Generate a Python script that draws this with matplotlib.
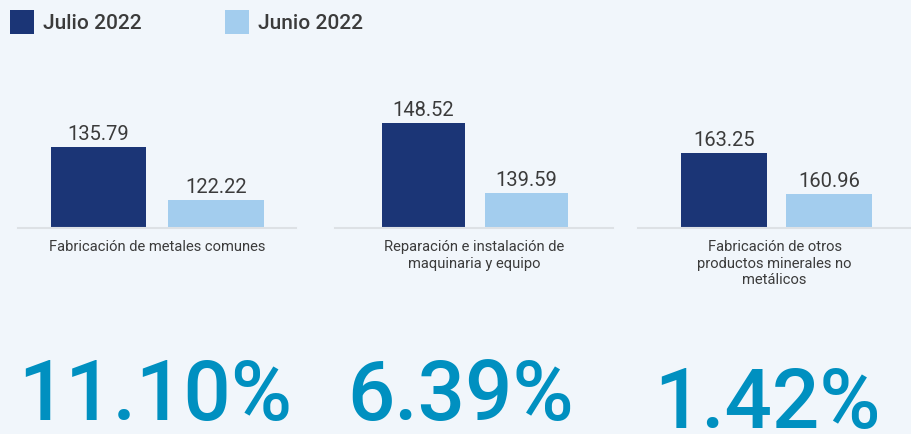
import numpy as np
import matplotlib.pyplot as plt
from matplotlib.patches import Rectangle

# datos
categorias = ["Fabricación de metales comunes",
              "Reparación e instalación de\nmaquinaria y equipo",
              "Fabricación de otros\nproductos minerales no\nmetálicos"]
julio_2022 = [135.79, 148.52, 163.25]
junio_2022 = [122.22, 139.59, 160.96]
variacion = ["11.10%", "6.39%", "1.42%"]
series = ["Julio 2022", "Junio 2022"]

c_julio = "#1b3576"
c_junio = "#a3cdee"
c_texto = "#3b3b3b"
c_pct = "#0090c0"
fondo = "#f1f6fb"

plt.rcParams['font.family'] = ['Roboto', 'DejaVu Sans']

W, H = 911, 435
fig = plt.figure(figsize=(W / 100, H / 100), dpi=100, facecolor=fondo)

# capa de fondo para leyenda y porcentajes (en pixeles)
ov = fig.add_axes([0, 0, 1, 1])
ov.set_xlim(0, W)
ov.set_ylim(H, 0)
ov.axis('off')

# leyenda
for (x0, lab, col) in [(10, series[0], c_julio), (225, series[1], c_junio)]:
    ov.add_patch(Rectangle((x0, 11), 24, 24, color=col, lw=0))
    ov.text(x0 + 33, 23.5, lab, fontsize=15, fontweight='medium',
            color=c_texto, va='center', ha='left')

# paneles: (izq, der, centro barra 1, separacion, ymin, ymax)
paneles = [(18, 296, 98.5, 117.5, 115.05, 150.7),
           (335, 613, 423.5, 103, 135.1, 152.9),
           (638, 911, 724, 105, 159.06, 166.8)]
base_y, top_y = 229, 90

for i, (izq, der, c0, s, ymin, ymax) in enumerate(paneles):
    ax = fig.add_axes([izq / W, (H - base_y) / H, (der - izq) / W,
                       (base_y - top_y) / H])
    ax.set_facecolor('none')
    vals = [julio_2022[i], junio_2022[i]]
    bars = ax.bar([0, 1], vals, width=0.81, color=[c_julio, c_junio],
                  bottom=0)
    ax.set_xlim((izq - c0) / s, (der - c0) / s)
    ax.set_ylim(ymin, ymax)
    for b, v in zip(bars, vals):
        ax.annotate(f"{v:.2f}", xy=(b.get_x() + b.get_width() / 2, v),
                    xytext=(0, 8), textcoords='offset pixels',
                    ha='center', va='baseline', fontsize=14.5,
                    color=c_texto)
    for sp in ['top', 'left', 'right']:
        ax.spines[sp].set_visible(False)
    ax.spines['bottom'].set_color('#dde1e5')
    ax.spines['bottom'].set_linewidth(1.5)
    ax.set_xticks([])
    ax.set_yticks([])
    ax.annotate(categorias[i], xy=(0.5, 0), xycoords='axes fraction',
                xytext=(0, -11), textcoords='offset pixels',
                ha='center', va='top', fontsize=10.6, color=c_texto,
                linespacing=1.25)

# porcentajes de variacion
pos_pct = [(155, 420), (461, 420), (767, 428)]
for (x, y), t in zip(pos_pct, variacion):
    ov.text(x, y, t, fontsize=60, fontweight='medium', color=c_pct,
            ha='center', va='baseline')

fig.savefig("out.png", dpi=100, facecolor=fondo)
